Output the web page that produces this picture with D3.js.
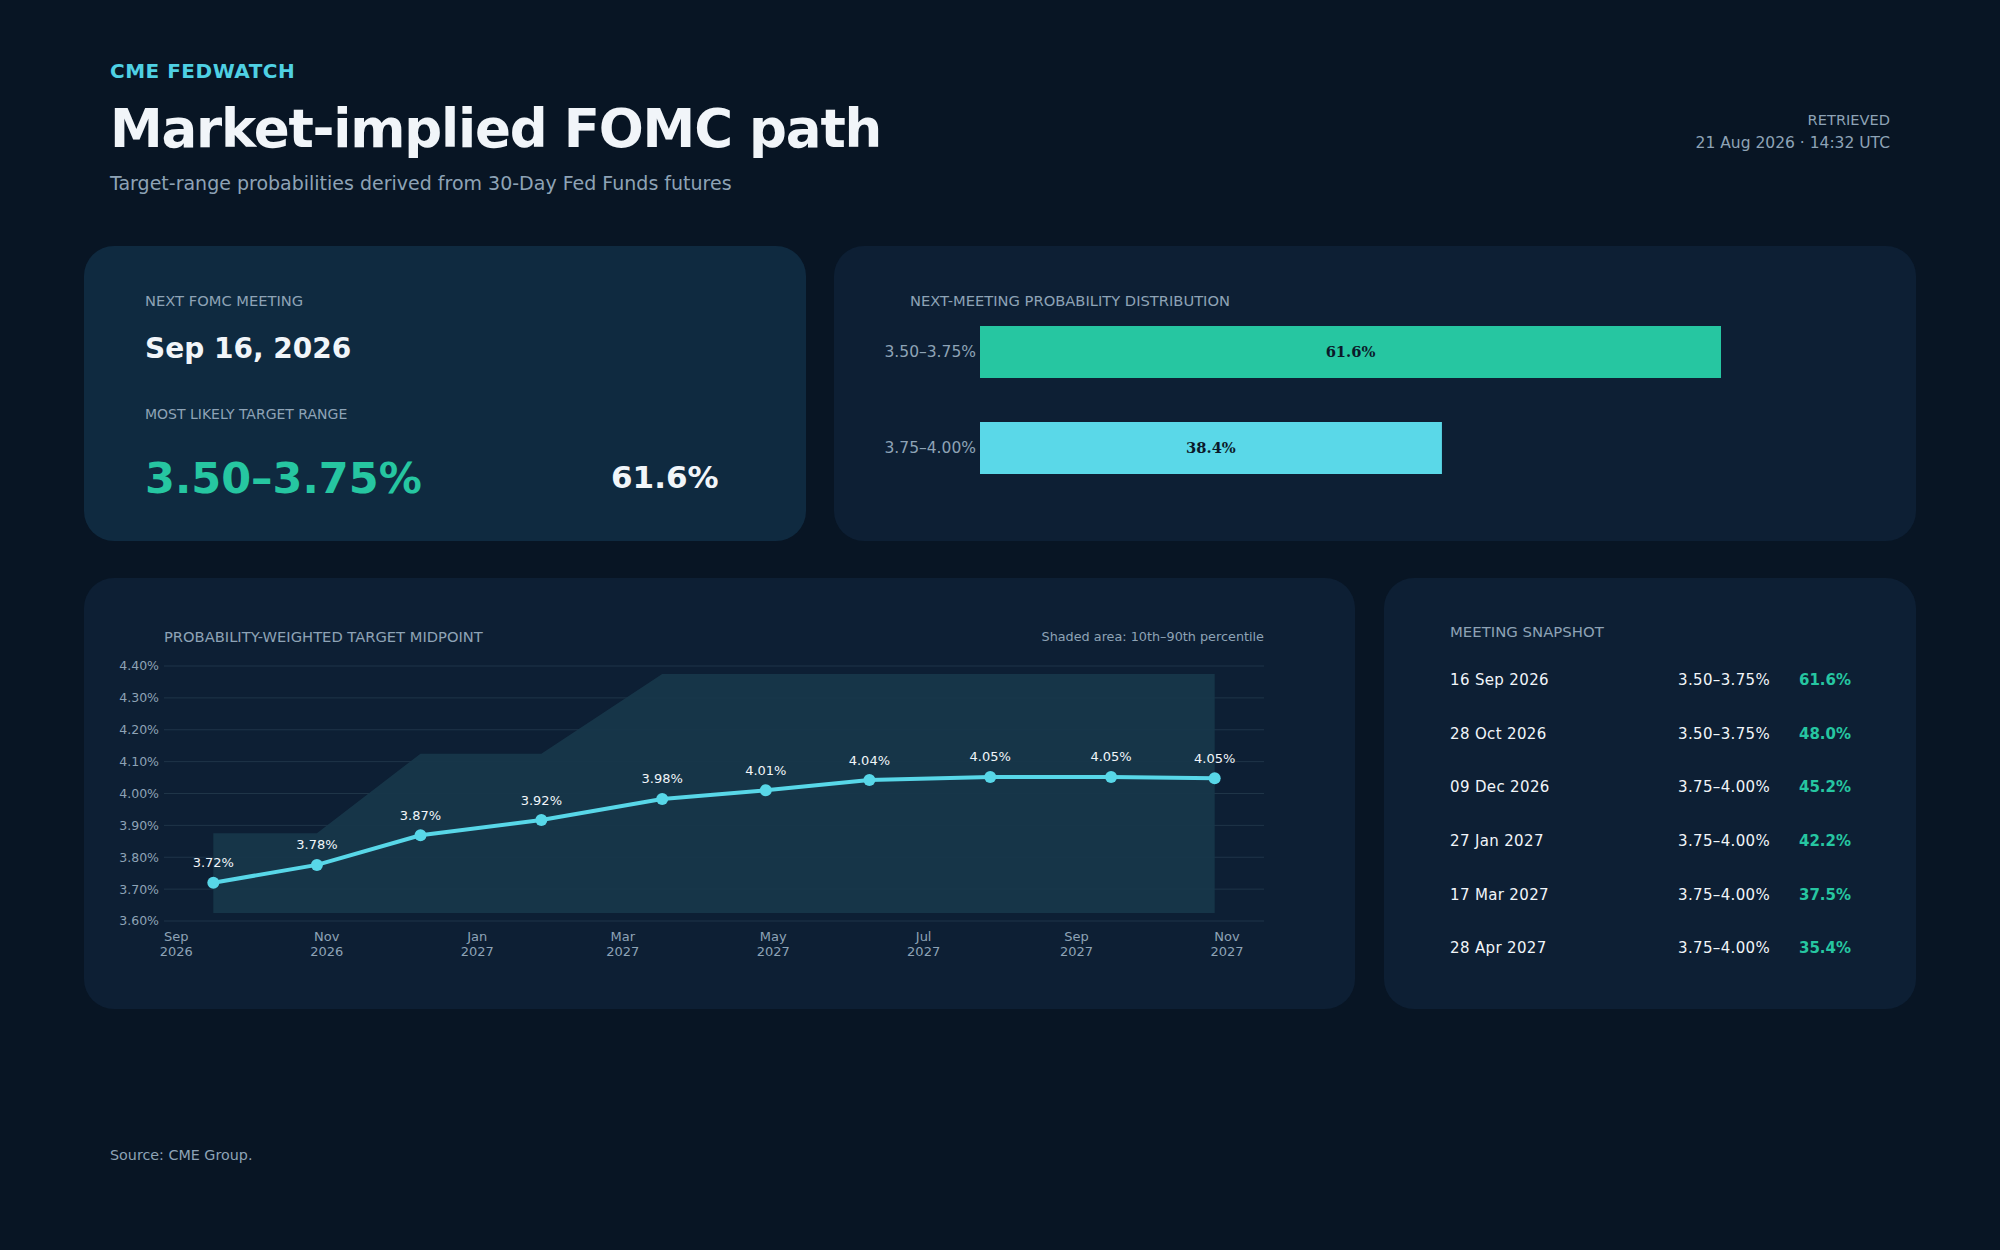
<!DOCTYPE html>
<html>
<head>
<meta charset="utf-8">
<script src="https://cdn.jsdelivr.net/npm/d3@7"></script>
<style>
  html, body { margin: 0; padding: 0; background: #081524; }
  svg { display: block; font-family: "DejaVu Sans", sans-serif; }
</style>
</head>
<body>
<svg id="chart" width="2000" height="1250"></svg>
<script>
// ---------- data ----------
const nextMeeting = "Sep 16, 2026";
const mostLikelyRange = "3.50–3.75%";
const mostLikelyProb = 61.6;

const distRanges = ["3.50–3.75%", "3.75–4.00%"];
const distProbs = [61.6, 38.4];

const meetingDates = ["2026-09-16","2026-10-28","2026-12-09","2027-01-27","2027-03-17","2027-04-28","2027-06-09","2027-07-28","2027-09-15","2027-10-27"];
const midpoints = [3.72, 3.776, 3.869, 3.917, 3.983, 4.010, 4.042, 4.052, 4.052, 4.048];
const p10 = [3.625, 3.625, 3.625, 3.625, 3.625, 3.625, 3.625, 3.625, 3.625, 3.625];
const p90 = [3.875, 3.875, 4.125, 4.125, 4.375, 4.375, 4.375, 4.375, 4.375, 4.375];
const yTicks = [3.6, 3.7, 3.8, 3.9, 4.0, 4.1, 4.2, 4.3, 4.4];

const snapDates = ["16 Sep 2026","28 Oct 2026","09 Dec 2026","27 Jan 2027","17 Mar 2027","28 Apr 2027"];
const snapRanges = ["3.50–3.75%","3.50–3.75%","3.75–4.00%","3.75–4.00%","3.75–4.00%","3.75–4.00%"];
const snapProbs = [61.6, 48.0, 45.2, 42.2, 37.5, 35.4];

// ---------- style ----------
const C = {
  gray: "#8ea3b6", white: "#f1f5f9", green: "#26c6a1", cyan: "#58d7e8",
  card1: "#0f2a40", card: "#0d1f34", band: "#17374a", grid: "#1f3548", dark: "#0b1a2a"
};

const svg = d3.select("#chart");
svg.append("rect").attr("width", 2000).attr("height", 1250).attr("fill", "#081524");

// ---------- header ----------
svg.append("text").attr("x", 110).attr("y", 78).attr("fill", "#4fd0e3")
  .attr("font-size", 20).attr("font-weight", "bold").attr("letter-spacing", 0.5).text("CME FEDWATCH");
svg.append("text").attr("x", 110).attr("y", 147).attr("fill", C.white)
  .attr("font-size", 53).attr("font-weight", "bold").attr("letter-spacing", -1.2).text("Market-implied FOMC path");
svg.append("text").attr("x", 110).attr("y", 190).attr("fill", C.gray)
  .attr("font-size", 19).text("Target-range probabilities derived from 30-Day Fed Funds futures");
svg.append("text").attr("x", 1890).attr("y", 125).attr("fill", C.gray)
  .attr("font-size", 14.6).attr("text-anchor", "end").text("RETRIEVED");
svg.append("text").attr("x", 1890).attr("y", 148).attr("fill", C.gray)
  .attr("font-size", 15.5).attr("text-anchor", "end").text("21 Aug 2026 · 14:32 UTC");

// ---------- cards ----------
function card(x, y, w, h, fill) {
  svg.append("rect").attr("x", x).attr("y", y).attr("width", w).attr("height", h)
    .attr("rx", 30).attr("ry", 30).attr("fill", fill);
}
card(84, 246, 722, 295, C.card1);
card(834, 246, 1082, 295, C.card);
card(84, 578, 1271, 431, C.card);
card(1384, 578, 532, 431, C.card);

// ---------- card 1: KPI ----------
svg.append("text").attr("x", 145).attr("y", 306).attr("fill", C.gray).attr("font-size", 14.7)
  .text("NEXT FOMC MEETING");
svg.append("text").attr("x", 145).attr("y", 358).attr("fill", C.white).attr("font-size", 28)
  .attr("font-weight", "bold").text(nextMeeting);
svg.append("text").attr("x", 145).attr("y", 419).attr("fill", C.gray).attr("font-size", 14)
  .text("MOST LIKELY TARGET RANGE");
svg.append("text").attr("x", 145).attr("y", 493).attr("fill", C.green).attr("font-size", 43)
  .attr("font-weight", "bold").text(mostLikelyRange);
svg.append("text").attr("x", 611).attr("y", 488).attr("fill", C.white).attr("font-size", 31)
  .attr("font-weight", "bold").text(mostLikelyProb.toFixed(1) + "%");

// ---------- card 2: distribution bars ----------
svg.append("text").attr("x", 910).attr("y", 306).attr("fill", C.gray).attr("font-size", 14.7)
  .text("NEXT-MEETING PROBABILITY DISTRIBUTION");
const xb = d3.scaleLinear().domain([0, d3.max(distProbs)]).range([980, 1721]);
const barColors = [C.green, "#5ad8e8"];
const yb = d3.scalePoint().domain(distRanges).range([352, 448]);
const bars = svg.append("g");
distRanges.forEach((r, i) => {
  const cy = yb(r);
  bars.append("rect").attr("x", xb(0)).attr("y", cy - 26).attr("width", xb(distProbs[i]) - xb(0))
    .attr("height", 52).attr("fill", barColors[i]);
  bars.append("text").attr("x", (xb(0) + xb(distProbs[i])) / 2).attr("y", cy)
    .attr("dy", "0.35em").attr("text-anchor", "middle").attr("fill", C.dark)
    .attr("font-family", "'DejaVu Serif', serif").attr("font-weight", "bold").attr("font-size", 14.7)
    .text(distProbs[i].toFixed(1) + "%");
  bars.append("text").attr("x", 976).attr("y", cy).attr("dy", "0.35em")
    .attr("text-anchor", "end").attr("fill", C.gray).attr("font-size", 15.5).text(r);
});

// ---------- card 3: line chart ----------
svg.append("text").attr("x", 164).attr("y", 642).attr("fill", C.gray).attr("font-size", 14.7)
  .text("PROBABILITY-WEIGHTED TARGET MIDPOINT");
svg.append("text").attr("x", 1264).attr("y", 641).attr("fill", C.gray).attr("font-size", 12.8)
  .attr("text-anchor", "end").text("Shaded area: 10th–90th percentile");

const parse = d3.timeParse("%Y-%m-%d");
const dates = meetingDates.map(parse);
const pad = 20;
const x = d3.scaleTime()
  .domain([d3.timeDay.offset(dates[0], -pad), d3.timeDay.offset(dates[dates.length - 1], pad)])
  .range([164, 1264]);
const y = d3.scaleLinear().domain([3.6, 4.4]).range([921, 666]);

const g = svg.append("g");
g.selectAll(".grid").data(yTicks).join("line")
  .attr("x1", 164).attr("x2", 1264).attr("y1", d => y(d)).attr("y2", d => y(d))
  .attr("stroke", C.grid).attr("stroke-width", 1);
g.selectAll(".ylab").data(yTicks).join("text")
  .attr("x", 159).attr("y", d => y(d)).attr("dy", "0.35em").attr("text-anchor", "end")
  .attr("fill", C.gray).attr("font-size", 12.5).text(d => d.toFixed(2) + "%");

const bandData = dates.map((d, i) => ({ d, lo: p10[i], hi: p90[i] }));
g.append("path").datum(bandData)
  .attr("d", d3.area().x(d => x(d.d)).y0(d => y(d.lo)).y1(d => y(d.hi)))
  .attr("fill", C.band).attr("fill-opacity", 0.95);

const xTicks = x.ticks(d3.timeMonth.every(2));
const fm = d3.timeFormat("%b"), fy = d3.timeFormat("%Y");
const xt = g.selectAll(".xt").data(xTicks).join("text")
  .attr("text-anchor", "middle").attr("fill", C.gray).attr("font-size", 13);
xt.append("tspan").attr("x", d => x(d)).attr("y", 941).text(d => fm(d));
xt.append("tspan").attr("x", d => x(d)).attr("y", 956).text(d => fy(d));

const pts = dates.map((d, i) => ({ d, v: midpoints[i] }));
g.append("path").datum(pts)
  .attr("d", d3.line().x(d => x(d.d)).y(d => y(d.v)))
  .attr("fill", "none").attr("stroke", C.cyan).attr("stroke-width", 4).attr("stroke-linejoin", "round");
g.selectAll(".pt").data(pts).join("circle")
  .attr("cx", d => x(d.d)).attr("cy", d => y(d.v)).attr("r", 6).attr("fill", C.cyan);
g.selectAll(".pl").data(pts).join("text")
  .attr("x", d => x(d.d)).attr("y", d => y(d.v) - 20).attr("dy", "0.35em")
  .attr("text-anchor", "middle").attr("fill", C.white).attr("font-size", 13)
  .text(d => d.v.toFixed(2) + "%");

// ---------- card 4: snapshot ----------
svg.append("text").attr("x", 1450).attr("y", 637).attr("fill", C.gray).attr("font-size", 14.9)
  .text("MEETING SNAPSHOT");
const ys = d3.scalePoint().domain(snapDates).range([680, 948]);
snapDates.forEach((d, i) => {
  const cy = ys(d);
  svg.append("text").attr("x", 1450).attr("y", cy).attr("dy", "0.35em").attr("fill", C.white)
    .attr("font-size", 15).attr("letter-spacing", 0.35).text(d);
  svg.append("text").attr("x", 1678).attr("y", cy).attr("dy", "0.35em").attr("fill", C.white)
    .attr("font-size", 15).attr("letter-spacing", 0.35).text(snapRanges[i]);
  svg.append("text").attr("x", 1799).attr("y", cy).attr("dy", "0.35em").attr("fill", C.green)
    .attr("font-size", 15).attr("font-weight", "bold").text(snapProbs[i].toFixed(1) + "%");
});

// ---------- footer ----------
svg.append("text").attr("x", 110).attr("y", 1160).attr("fill", C.gray).attr("font-size", 14.3)
  .text("Source: CME Group.");
</script>
</body>
</html>
